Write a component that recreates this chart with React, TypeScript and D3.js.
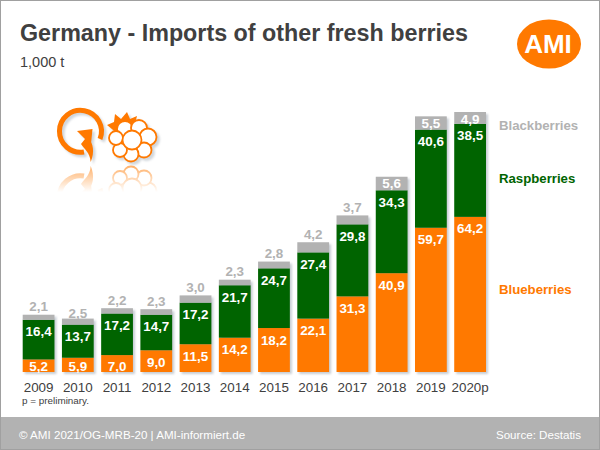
import React from "react";
import * as d3 from "d3";

const years = ["2009","2010","2011","2012","2013","2014","2015","2016","2017","2018","2019","2020p"];
const blueberries = [5.2,5.9,7.0,9.0,11.5,14.2,18.2,22.1,31.3,40.9,59.7,64.2];
const raspberries = [16.4,13.7,17.2,14.7,17.2,21.7,24.7,27.4,29.8,34.3,40.6,38.5];
const blackberries = [2.1,2.5,2.2,2.3,3.0,2.3,2.8,4.2,3.7,5.6,5.5,4.9];
const ORANGE = "#ff7900", GREEN = "#006400", GRAY = "#b2b2b2", TEXT = "#404040";
const FONT = "'Liberation Sans', Arial, sans-serif";

const fmt = (v: number) => v.toFixed(1).replace(".", ",");

export default function App() {
  const x = d3.scaleBand<string>().domain(years).range([22.7, 486]).paddingInner(0.19).paddingOuter(0);
  const y = d3.scaleLinear().domain([0, 107.6]).range([372, 112]);
  const stack = d3.stack<number>().keys(["b","r","k"]).value((i, k) =>
    k === "b" ? blueberries[i] : k === "r" ? raspberries[i] : blackberries[i]);
  const series = stack(years.map((_, i) => i));
  const colors = [ORANGE, GREEN, GRAY];
  const bw = x.bandwidth();

  const circles: [number, number, number][] = [
    [125, 129, 8],[139, 128, 8],[148, 137, 8.5],[144, 150, 7.5],[131, 154, 7.5],[120, 150, 7],[116, 138, 7],[132, 140, 9.5],
  ];

  return (
    <div style={{ position: "absolute", left: 0, top: 0, width: 600, height: 450 }}>
      <svg width={600} height={450} viewBox="0 0 600 450" style={{ display: "block", fontFamily: FONT }}>
        <defs>
          <filter id="sh" x="-20%" y="-20%" width="140%" height="140%"><feGaussianBlur stdDeviation="1" /></filter>
          <filter id="ish" x="-20%" y="-20%" width="140%" height="140%">
            <feColorMatrix type="matrix" values="0 0 0 0 0.45  0 0 0 0 0.5  0 0 0 0 0.55  0 0 0 0.6 0" />
            <feGaussianBlur stdDeviation="1" />
          </filter>
          <linearGradient id="fade" x1="0" y1="0" x2="0" y2="1">
            <stop offset="0" stopColor="#fff" stopOpacity="0.6" />
            <stop offset="1" stopColor="#fff" stopOpacity="0" />
          </linearGradient>
          <mask id="rm" maskUnits="userSpaceOnUse" x="40" y="160" width="130" height="35">
            <rect x="40" y="165" width="130" height="27" fill="url(#fade)" />
          </mask>
          <g id="icons">
            <path d="M 100 139 A 21 21 0 1 0 84 152" fill="none" stroke={ORANGE} strokeWidth="5" />
            <path d="M 77 131 L 92.5 129 L 91 144 L 88.5 138 C 93 143 95 152 90.7 162 C 90 152 84 149 81 144 L 85 139 Z" fill={ORANGE} />
            <path d="M 107 125 L 114 122 L 115 114 L 121 119 L 127 112 L 130 119 L 137 116 L 135 124 L 118 134 Z" fill={ORANGE} />
            {circles.map(([cx, cy, r], i) => (
              <circle key={i} cx={cx} cy={cy} r={r} fill="#fff" stroke={ORANGE} strokeWidth="1.8" />
            ))}
          </g>
        </defs>

        <rect x={0} y={0} width={600} height={450} fill="#fff" />
        <rect x={0.5} y={0.5} width={599} height={449} fill="none" stroke="#a0a0a0" />

        <text x={20} y={41} fontSize={23.3} fontWeight="bold" fill={TEXT}>Germany - Imports of other fresh berries</text>
        <text x={20} y={67} fontSize={14.5} fill={TEXT}>1,000 t</text>

        <ellipse cx={549} cy={44} rx={32} ry={24.5} fill={ORANGE} />
        <text x={548} y={53} fontSize={26} fontWeight="bold" fill="#fff" textAnchor="middle">AMI</text>

        <use href="#icons" transform="translate(2.5,2.5)" filter="url(#ish)" />
        <use href="#icons" />
        <g mask="url(#rm)">
          <use href="#icons" transform="translate(0,328) scale(1,-1)" />
        </g>

        {years.map((yr, i) => (
          <rect key={yr} x={x(yr)! + 2} y={y(series[2][i][1]) + 2} width={bw} height={372 - y(series[2][i][1])} fill="#9aa4b0" opacity={0.55} filter="url(#sh)" />
        ))}
        {series.map((s, si) => s.map((d, i) => (
          <rect key={si + "-" + i} x={x(years[i])} y={y(d[1])} width={bw} height={y(d[0]) - y(d[1])} fill={colors[si]} />
        )))}

        {years.map((yr, i) => {
          const cx = x(yr)! + bw / 2;
          return (
            <g key={yr} fontWeight="bold" fontSize={13.4} textAnchor="middle">
              <text x={cx} y={Math.min(y(series[0][i][1]) + 16.5, 370.5)} fill="#fff">{fmt(blueberries[i])}</text>
              <text x={cx} y={y(series[1][i][1]) + 16.5} fill="#fff">{fmt(raspberries[i])}</text>
              {blackberries[i] >= 4.5 ? (
                <text x={cx} y={y(series[2][i][1]) + 11.5} fill="#fff">{fmt(blackberries[i])}</text>
              ) : (
                <text x={cx} y={i === 1 ? y(series[2][i][1]) - 0.5 : y(series[2][i][1]) - 3.5} fill={GRAY}>{fmt(blackberries[i])}</text>
              )}
              <text x={cx} y={392} fontWeight="normal" fontSize={13.4} fill={TEXT}>{yr}</text>
            </g>
          );
        })}

        <text x={22} y={404} fontSize={9.9} fill={TEXT}>p = preliminary.</text>

        <text x={499} y={130} fontSize={13.2} fontWeight="bold" fill={GRAY}>Blackberries</text>
        <text x={499} y={183} fontSize={13.2} fontWeight="bold" fill={GREEN}>Raspberries</text>
        <text x={499} y={294} fontSize={13.2} fontWeight="bold" fill={ORANGE}>Blueberries</text>

        <rect x={1} y={417} width={598} height={32} fill={GRAY} />
        <text x={19} y={439} fontSize={11.6} fill="#fff">© AMI 2021/OG-MRB-20 | AMI-informiert.de</text>
        <text x={581} y={439} fontSize={11.6} fill="#fff" textAnchor="end">Source: Destatis</text>
      </svg>
    </div>
  );
}
